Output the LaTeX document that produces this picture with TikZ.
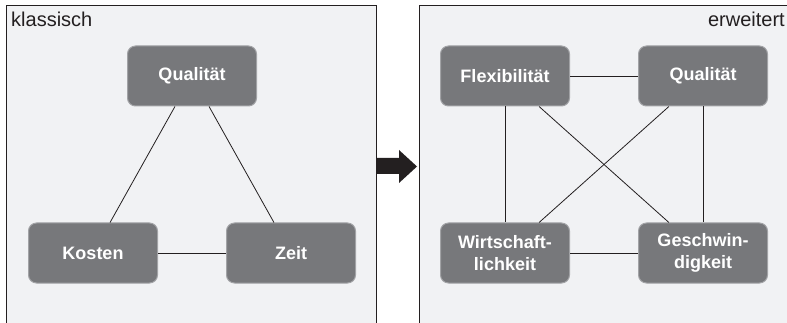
\documentclass[tikz,border=0pt]{standalone}
\usepackage{fontspec}
\setmainfont{Liberation Sans}
\usepackage{xcolor}
\usetikzlibrary{calc}
\definecolor{frame}{HTML}{231F20}
\definecolor{panel}{HTML}{F1F2F4}
\definecolor{boxfill}{HTML}{77787B}
\definecolor{boxrim}{HTML}{A2A3A6}
\definecolor{boxtext}{HTML}{FFFFFF}
\tikzset{
  pane/.style={draw=frame, fill=panel, line width=0.9pt},
  goal/.style={rectangle, rounded corners=8pt, fill=boxfill, draw=boxrim,
    line width=1pt, minimum width=129pt, minimum height=60pt,
    text=boxtext, align=center, inner sep=0pt,
    font=\fontsize{18}{21.5}\selectfont\bfseries},
  link/.style={draw=frame, line width=0.8pt},
  tag/.style={text=frame, inner sep=0pt, font=\fontsize{20}{24}\selectfont},
  bigarrow/.style={fill=frame, draw=none}
}
\begin{document}
\begin{tikzpicture}[x=1pt, y=-1pt]
  \useasboundingbox (0,0) rectangle (787,323);
  % panels
  \fill[white] (0,0) rectangle (787,323);
  \draw[pane] (6.5,5.5) rectangle (376.5,340);
  \draw[pane] (419.5,5.5) rectangle (800,340);
  \node[tag, anchor=base west] (ltag) at (11,27) {klassisch};
  \node[tag, anchor=base east] (rtag) at (785,27) {erweitert};

  % arrow between the panels
  \fill[bigarrow] (377,158) -- (399,158) -- (399,150) -- (417,166.5)
    -- (399,183) -- (399,174) -- (377,174) -- cycle;

  % classic triangle
  \node[goal] (kqual) at (192,76) {Qualität};
  \node[goal] (kkost) at (93,253) {Kosten};
  \node[goal] (kzeit) at (291,253) {Zeit};
  \draw[link] (kqual) -- (kkost);
  \draw[link] (kqual) -- (kzeit);
  \draw[link] (kkost) -- (kzeit);

  % extended square
  \node[goal] (eflex) at (505,76) {Flexibilität};
  \node[goal] (equal) at (703,76) {Qualität};
  \node[goal] (ewirt) at (505,253) {Wirtschaft-\\lichkeit};
  \node[goal] (egesch) at (703,253) {Geschwin-\\digkeit};
  \draw[link] (eflex) -- (equal);
  \draw[link] (eflex) -- (ewirt);
  \draw[link] (equal) -- (egesch);
  \draw[link] (ewirt) -- (egesch);
  \draw[link] (eflex) -- (egesch);
  \draw[link] (equal) -- (ewirt);
\end{tikzpicture}
\end{document}
